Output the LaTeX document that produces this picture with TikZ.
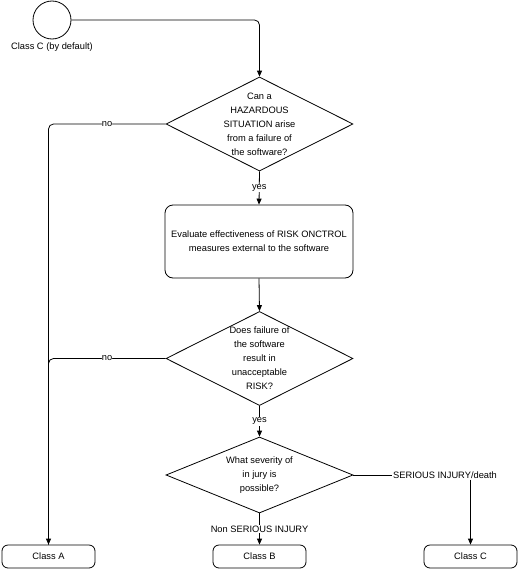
\documentclass[tikz,border=0pt]{standalone}
\usepackage{fontspec}
\setmainfont{Liberation Sans}
\usetikzlibrary{shapes.geometric,arrows.meta}
\begin{document}
\begin{tikzpicture}[x=1pt,y=-1pt,
  every node/.style={font=\fontsize{9.3}{14}\selectfont},
  dec/.style={draw, line width=0.8pt, diamond, minimum width=187pt, minimum height=94pt, inner sep=0pt},
  proc/.style={draw, line width=0.8pt, rounded corners=8pt, minimum width=188pt, minimum height=73pt, align=center},
  term/.style={draw, line width=0.8pt, rounded corners=6pt, minimum width=93pt, minimum height=23pt, inner sep=0pt},
  line/.style={draw, line width=0.8pt},
  conn/.style={line, -{Triangle[length=6pt,width=5pt]}},
  lab/.style={fill=white, inner sep=1pt},
  nolab/.style={fill=white, inner sep=0pt}]
\useasboundingbox (0,0) rectangle (519,570);
\node[draw, line width=0.8pt, circle, minimum size=38pt, inner sep=0pt] (start) at (52,20) {};
\node (startlab) at (52,47) {Class C (by default)};
\node[dec, label={[align=center]center:Can a\\HAZARDOUS\\SITUATION arise\\from a failure of\\the software?}] (d1) at (259.5,124) {};
\node[proc] (p1) at (259,241.5) {Evaluate effectiveness of RISK ONCTROL\\measures external to the software};
\node[dec, label={[align=center]center:Does failure of\\the software\\result in\\unacceptable\\RISK?}] (d2) at (259.5,358.5) {};
\node[dec, minimum height=76pt, label={[align=center]center:What severity of\\in jury is\\possible?}] (d3) at (259.5,475) {};
\node[term] (classA) at (48.5,556.5) {Class A};
\node[term] (classB) at (259.5,556.5) {Class B};
\node[term] (classC) at (470.5,556.5) {Class C};
\node[lab] (serious) at (445,475) {SERIOUS INJURY/death};
\draw[conn, rounded corners=5pt] (start.east) -| (d1.north);
\draw[conn] (d1.south) -- node[lab]{yes} (p1.north);
\draw[conn] (p1.south) -- (d2.north);
\draw[conn] (d2.south) -- node[lab]{yes} (d3.north);
\draw[conn, rounded corners=5pt] (d1.west) -| node[nolab, pos=0.25]{no} (classA.north);
\draw[line, rounded corners=5pt] (d2.west) -| node[nolab, pos=0.25]{no} (classA.north);
\draw[conn] (d3.south) -- node[lab]{Non SERIOUS INJURY} (classB.north);
\draw[line] (d3.east) -- (serious.west);
\draw[conn] (serious.south -| classC.north) -- (classC.north);
\end{tikzpicture}
\end{document}
